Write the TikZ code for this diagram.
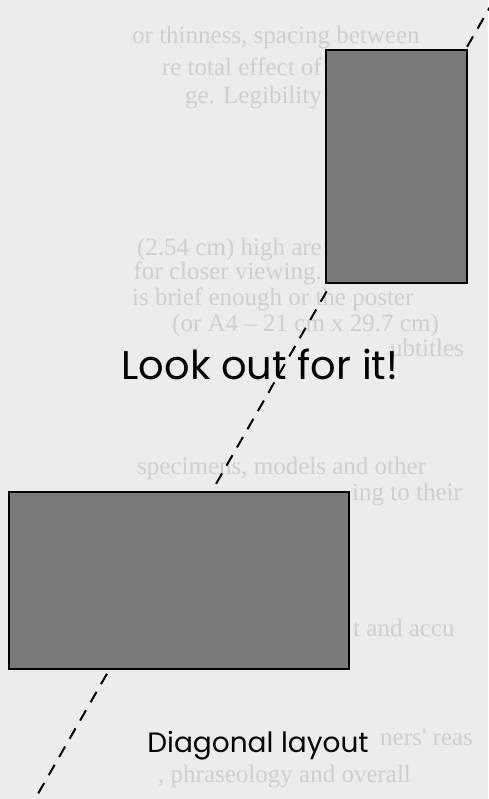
\documentclass[tikz,border=0pt]{standalone}
\usepackage{fontspec}
\newfontfamily\labelfont{Poppins}
\newfontfamily\bleedfont{Liberation Serif}
\definecolor{paper}{gray}{0.925}
\definecolor{bleed}{gray}{0.81}
\definecolor{panel}{gray}{0.48}
\begin{document}
\begin{tikzpicture}[x=1pt,y=-1pt,
  panelbox/.style={draw=black,line width=1.6pt,fill=panel,inner sep=0pt,anchor=north west},
  bleedtext/.style={text=bleed,inner sep=0pt,font=\bleedfont\fontsize{25}{25}\selectfont},
  diag/.style={line width=2pt,dash pattern=on 12pt off 9pt}]
\useasboundingbox (0,0) rectangle (488,799);
\fill[paper] (0,0) rectangle (488,799);

\node[bleedtext,anchor=base west] (b1) at (132,44) {or thinness, spacing between};
\node[bleedtext,anchor=base east] (b2) at (322,76) {re total effect of};
\node[bleedtext,anchor=base east] (b3) at (322,104) {ge. Legibility};
\node[bleedtext,anchor=base east] (b4) at (322,256) {(2.54 cm) high are};
\node[bleedtext,anchor=base east] (b5) at (322,279) {for closer viewing.};
\node[bleedtext,anchor=base west] (b6) at (132,305) {is brief enough or the poster};
\node[bleedtext,anchor=base west] (b7) at (172,331) {(or A4 – 21 cm x 29.7 cm)};
\node[bleedtext,anchor=base west] (b8) at (390,356) {ubtitles};
\node[bleedtext,anchor=base west] (b9) at (137,474) {specimens, models and other};
\node[bleedtext,anchor=base west] (b10) at (352,500) {ing to their};
\node[bleedtext,anchor=base west] (b11) at (353,636) {t and accu};
\node[bleedtext,anchor=base west] (b12) at (380,745) {ners' reas};
\node[bleedtext,anchor=base west] (b13) at (158,782) {, phraseology and overall};

\coordinate (diagtop) at (494,0);
\coordinate (diagend) at (35,799);
\draw[diag] (diagtop) -- (diagend);

\node[panelbox,minimum width=141pt,minimum height=233pt] (tallpanel) at (325,49) {};
\node[panelbox,minimum width=340pt,minimum height=177pt] (widepanel) at (8,491) {};

\node[anchor=base,inner sep=0pt,font=\labelfont\fontsize{40}{40}\selectfont] (lookout) at (260,379) {Look out for it!};
\node[anchor=base,inner sep=0pt,font=\labelfont\fontsize{28}{28}\selectfont] (caption) at (258,752) {Diagonal layout};
\end{tikzpicture}
\end{document}
